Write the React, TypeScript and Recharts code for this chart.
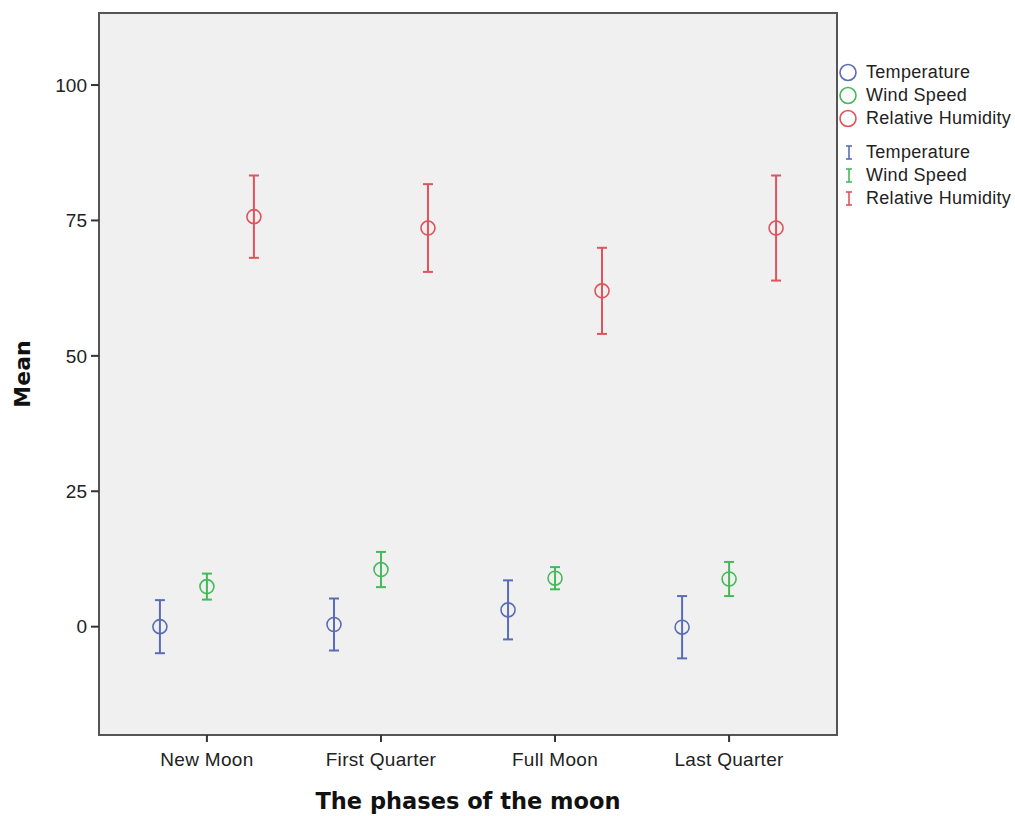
import type { FC } from 'react';
import { ScatterChart, Scatter, XAxis, YAxis, ErrorBar, ReferenceArea } from 'recharts';

// moon phases along the x axis
const PHASES = ['New Moon', 'First Quarter', 'Full Moon', 'Last Quarter'];

// means and 95% CI half-widths per phase
const TEMP_MEAN = [0.0, 0.4, 3.1, -0.1];
const TEMP_CI = [4.9, 4.8, 5.45, 5.75];
const WIND_MEAN = [7.4, 10.55, 8.95, 8.8];
const WIND_CI = [2.4, 3.25, 2.05, 3.15];
const HUM_MEAN = [75.7, 73.6, 62.0, 73.6];
const HUM_CI = [7.6, 8.1, 7.95, 9.7];

const Y_TICKS = [0, 25, 50, 75, 100];
const X_DOMAIN: [number, number] = [-0.62, 3.62];
const Y_DOMAIN: [number, number] = [-20, 113.3];

const SERIES = [
  { name: 'Temperature', color: '#5a6cb6', offset: -0.27, mean: TEMP_MEAN, ci: TEMP_CI },
  { name: 'Wind Speed', color: '#45b95a', offset: 0, mean: WIND_MEAN, ci: WIND_CI },
  { name: 'Relative Humidity', color: '#e0525c', offset: 0.27, mean: HUM_MEAN, ci: HUM_CI },
];

const TICK_FONT = { fontFamily: '"Liberation Sans", Arial, sans-serif', fontSize: 19, fill: '#222', letterSpacing: 0.3 };
const TITLE_FONT = '"DejaVu Sans", Verdana, sans-serif';

const buildPoints = (mean: number[], ci: number[], offset: number) =>
  PHASES.map((phase, i) => ({ phase, x: i + offset, y: mean[i], ci: ci[i] }));

const LegendBox: FC = () => (
  <div
    style={{
      position: 'absolute',
      left: 838,
      top: 61,
      fontFamily: '"Liberation Sans", Arial, sans-serif',
      fontSize: 18,
      letterSpacing: 0.3,
      color: '#222',
      lineHeight: '23px',
    }}
  >
    {SERIES.map((s) => (
      <div key={`m-${s.name}`} style={{ display: 'flex', alignItems: 'center', height: 23 }}>
        <svg width={28} height={23}>
          <circle cx={10} cy={11.5} r={8} fill="none" stroke={s.color} strokeWidth={1.6} />
        </svg>
        <span>{s.name}</span>
      </div>
    ))}
    <div style={{ height: 11 }} />
    {SERIES.map((s) => (
      <div key={`e-${s.name}`} style={{ display: 'flex', alignItems: 'center', height: 23 }}>
        <svg width={28} height={23}>
          <g stroke={s.color} strokeWidth={1.6}>
            <line x1={11} y1={5} x2={11} y2={18} />
            <line x1={8} y1={5} x2={14} y2={5} />
            <line x1={8} y1={18} x2={14} y2={18} />
          </g>
        </svg>
        <span>{s.name}</span>
      </div>
    ))}
  </div>
);

const App: FC = () => {
  return (
    <div style={{ position: 'absolute', left: 0, top: 0, width: 1015, height: 816, background: '#fff' }}>
      <ScatterChart width={1015} height={816} margin={{ top: 13, right: 178, bottom: 0, left: 0 }}>
        <ReferenceArea
          x1={X_DOMAIN[0]}
          x2={X_DOMAIN[1]}
          y1={Y_DOMAIN[0]}
          y2={Y_DOMAIN[1]}
          fill="#f0f0f1"
          fillOpacity={1}
          stroke="#555"
          strokeWidth={2}
          ifOverflow="visible"
        />
        <XAxis
          type="number"
          dataKey="x"
          domain={X_DOMAIN}
          ticks={[0, 1, 2, 3]}
          allowDataOverflow
          interval={0}
          tickFormatter={(v: number) => PHASES[Math.round(v)] ?? ''}
          height={81}
          tick={TICK_FONT}
          tickSize={7}
          tickMargin={11}
          axisLine={{ stroke: '#555', strokeWidth: 2 }}
          tickLine={{ stroke: '#333', strokeWidth: 2 }}
          label={({ viewBox }: any) => (
            <text
              x={viewBox.x + viewBox.width / 2}
              y={809}
              textAnchor="middle"
              fontFamily={TITLE_FONT}
              fontWeight="bold"
              fontSize={22.5}
              fill="#111"
            >
              The phases of the moon
            </text>
          )}
        />
        <YAxis
          type="number"
          dataKey="y"
          domain={Y_DOMAIN}
          ticks={Y_TICKS}
          allowDataOverflow
          interval={0}
          width={99}
          tick={{ ...TICK_FONT, letterSpacing: 0 }}
          tickSize={8}
          tickMargin={4}
          axisLine={{ stroke: '#555', strokeWidth: 2 }}
          tickLine={{ stroke: '#333', strokeWidth: 2 }}
          label={({ viewBox }: any) => (
            <text
              x={30}
              y={viewBox.y + viewBox.height / 2}
              textAnchor="middle"
              transform={`rotate(-90 30 ${viewBox.y + viewBox.height / 2})`}
              fontFamily={TITLE_FONT}
              fontWeight="bold"
              fontSize={22}
              fill="#111"
            >
              Mean
            </text>
          )}
        />
        {SERIES.map((s) => (
          <Scatter
            key={s.name}
            name={s.name}
            data={buildPoints(s.mean, s.ci, s.offset)}
            isAnimationActive={false}
            shape={(p: any) => (
              <circle cx={p.cx} cy={p.cy} r={7} fill="none" stroke={s.color} strokeWidth={1.6} />
            )}
          >
            <ErrorBar dataKey="ci" direction="y" width={5} stroke={s.color} strokeWidth={2} />
          </Scatter>
        ))}
      </ScatterChart>
      <LegendBox />
    </div>
  );
};

export default App;
